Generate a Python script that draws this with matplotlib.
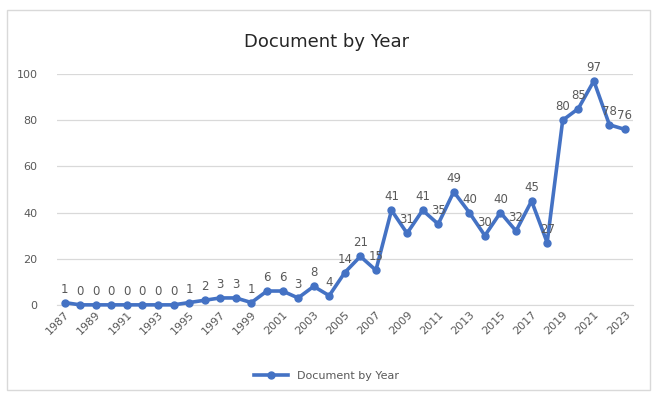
import matplotlib.pyplot as plt
from matplotlib.patches import Rectangle

years = list(range(1987, 2024))
docs = [1, 0, 0, 0, 0, 0, 0, 0, 1, 2, 3, 3, 1, 6, 6, 3, 8, 4, 14, 21, 15,
        41, 31, 41, 35, 49, 40, 30, 40, 32, 45, 27, 80, 85, 97, 78, 76]
yticks = [0, 20, 40, 60, 80, 100]

blue = "#4472C4"
grey = "#595959"

fig = plt.figure(figsize=(6.53, 3.98), dpi=100)
ax = fig.add_axes([0.087, 0.234, 0.882, 0.58])

x = list(range(len(years)))
ax.plot(x, docs, color=blue, lw=2.6, marker="o", ms=5, label="Document by Year",
        zorder=3, clip_on=False)
for xi, v in zip(x, docs):
    ax.annotate(str(v), (xi, v), xytext=(0, 5), textcoords="offset points",
                ha="center", va="bottom", fontsize=8.5, color=grey)

ax.set_xlim(-0.5, len(years) - 0.5)
ax.set_ylim(0, 100)
ax.set_yticks(yticks)
ax.set_xticks(x[::2])
ax.set_xticklabels([str(y) for y in years[::2]], rotation=45, ha="right",
                   rotation_mode="anchor", fontsize=8, color=grey)
ax.tick_params(axis="y", labelsize=8, colors=grey, length=0, pad=14)
ax.tick_params(axis="x", length=0, pad=3)
ax.grid(axis="y", color="#d9d9d9", lw=0.9)
ax.set_axisbelow(True)
for s in ["top", "right", "left"]:
    ax.spines[s].set_visible(False)
ax.spines["bottom"].set_color("#d9d9d9")

fig.text(0.5, 0.895, "Document by Year", ha="center", va="center",
         fontsize=13, color="#262626")
fig.legend(loc="center", bbox_to_anchor=(0.5, 0.055), frameon=False,
           fontsize=8, labelcolor=grey, handlelength=3)

fig.patches.append(Rectangle((0.01, 0.02), 0.985, 0.955, transform=fig.transFigure,
                             fill=False, edgecolor="#d9d9d9", lw=1))

fig.savefig("out.png", dpi=100)
